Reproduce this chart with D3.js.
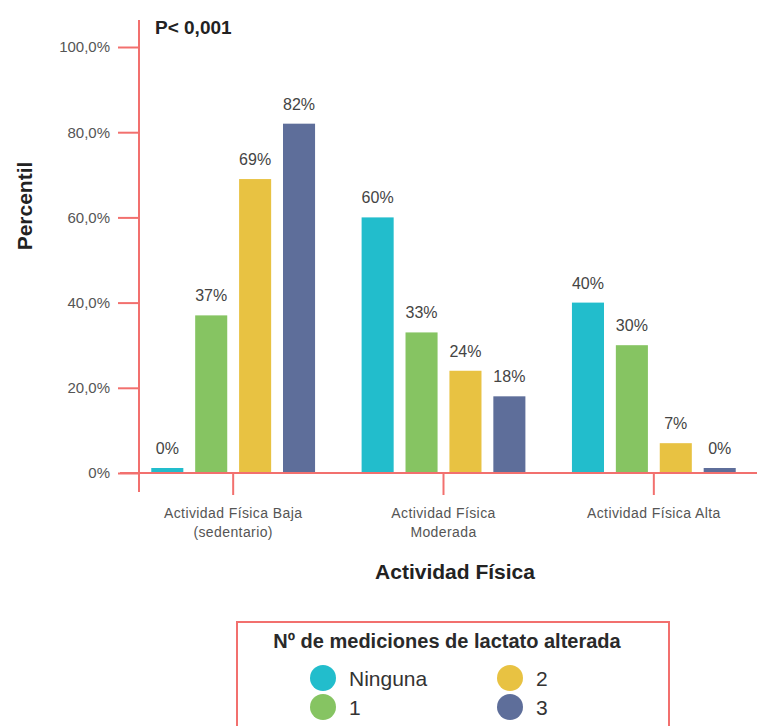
<!DOCTYPE html>
<html>
<head>
<meta charset="utf-8">
<script src="https://cdn.jsdelivr.net/npm/d3@7"></script>
<style>
  html, body { margin: 0; padding: 0; background: #fff; }
  svg { display: block; font-family: "Liberation Sans", Arial, sans-serif; }
</style>
</head>
<body>
<svg id="chart" width="757" height="726"></svg>
<script>
// Physical activity level (x categories) and lactate-measurement series
const categories = ["Actividad Física Baja\n(sedentario)", "Actividad Física\nModerada", "Actividad Física Alta"];
const series = ["Ninguna", "1", "2", "3"];
const seriesColors = ["#22BDCC", "#86C462", "#E8C242", "#5E6E9A"];

// Percent per category, one value per series (same order as `series`)
const valuesBaja = [0, 37, 69, 82];
const valuesModerada = [60, 33, 24, 18];
const valuesAlta = [40, 30, 7, 0];
const valuesByCategory = [valuesBaja, valuesModerada, valuesAlta];

const yTicks = [0, 20, 40, 60, 80, 100];

const axisColor = "#F2706E";
const svg = d3.select("#chart");

const y = d3.scaleLinear().domain([0, 100]).range([473, 47]);
const x0 = d3.scaleBand().domain(categories).range([128, 759]).paddingInner(0);
const x1 = d3.scaleBand().domain(series).range([0, x0.bandwidth()])
  .paddingInner(0.27).paddingOuter(0.53);
const color = d3.scaleOrdinal().domain(series).range(seriesColors);

const minBarPx = 5; // keeps zero-valued bars visible as a thin strip

// Bars
const groups = svg.append("g").selectAll("g")
  .data(categories.map((c, i) => ({ cat: c, vals: valuesByCategory[i] })))
  .join("g")
  .attr("transform", d => `translate(${x0(d.cat)},0)`);

const items = d => d.vals.map((v, j) => ({ key: series[j], v }));

groups.selectAll("rect")
  .data(items)
  .join("rect")
  .attr("x", d => x1(d.key))
  .attr("width", x1.bandwidth())
  .attr("y", d => Math.min(y(d.v), y(0) - minBarPx))
  .attr("height", d => Math.max(y(0) - y(d.v), minBarPx))
  .attr("fill", d => color(d.key));

groups.selectAll("text")
  .data(items)
  .join("text")
  .attr("x", d => x1(d.key) + x1.bandwidth() / 2)
  .attr("y", d => Math.min(y(d.v), y(0) - minBarPx) - 14)
  .attr("text-anchor", "middle")
  .attr("font-size", 16)
  .attr("fill", "#444")
  .text(d => d.v + "%");

// Y axis
const yAxis = d3.axisLeft(y)
  .tickValues(yTicks)
  .tickSize(21)
  .tickPadding(8)
  .tickFormat(d => d === 0 ? "0%" : d3.format(".1f")(d).replace(".", ",") + "%");

const gy = svg.append("g").attr("transform", "translate(139,0)").call(yAxis);
gy.select(".domain").remove();
gy.selectAll(".tick line").attr("stroke", axisColor).attr("stroke-width", 2);
gy.selectAll(".tick text").attr("font-size", 15).attr("fill", "#555")
  .attr("font-family", "Liberation Sans, Arial, sans-serif");

svg.append("line")
  .attr("x1", 139).attr("x2", 139).attr("y1", 20).attr("y2", 492)
  .attr("stroke", axisColor).attr("stroke-width", 2);

// X axis
const xAxis = d3.axisBottom(x0).tickSize(22).tickPadding(0).tickFormat("");
const gx = svg.append("g").attr("transform", `translate(0,${y(0)})`).call(xAxis);
gx.select(".domain").remove();
gx.selectAll(".tick line").attr("stroke", axisColor).attr("stroke-width", 2);

svg.append("line")
  .attr("x1", 120).attr("x2", 757).attr("y1", y(0)).attr("y2", y(0))
  .attr("stroke", axisColor).attr("stroke-width", 2);

const catLabels = svg.append("g").selectAll("text")
  .data(categories)
  .join("text")
  .attr("x", d => x0(d) + x0.bandwidth() / 2)
  .attr("y", 518)
  .attr("text-anchor", "middle")
  .attr("font-size", 14)
  .attr("letter-spacing", 0.4)
  .attr("fill", "#555");
catLabels.each(function (d) {
  const t = d3.select(this);
  d.split("\n").forEach((line, i) => {
    t.append("tspan")
      .attr("x", x0(d) + x0.bandwidth() / 2)
      .attr("dy", i === 0 ? 0 : 19)
      .text(line);
  });
});

// Titles
svg.append("text")
  .attr("x", 455).attr("y", 579)
  .attr("text-anchor", "middle")
  .attr("font-size", 21).attr("font-weight", "bold").attr("fill", "#222")
  .text("Actividad Física");

svg.append("text")
  .attr("transform", "translate(32,206) rotate(-90)")
  .attr("text-anchor", "middle")
  .attr("font-size", 21).attr("font-weight", "bold").attr("fill", "#222")
  .text("Percentil");

svg.append("text")
  .attr("x", 155).attr("y", 34)
  .attr("font-size", 19).attr("font-weight", "bold").attr("fill", "#222")
  .text("P< 0,001");

// Legend
const legend = svg.append("g");
legend.append("rect")
  .attr("x", 237).attr("y", 622).attr("width", 432).attr("height", 140)
  .attr("fill", "none").attr("stroke", axisColor).attr("stroke-width", 2);

legend.append("text")
  .attr("x", 447).attr("y", 648)
  .attr("text-anchor", "middle")
  .attr("font-size", 20).attr("font-weight", "bold").attr("fill", "#2a2a2a")
  .text("Nº de mediciones de lactato alterada");

const legendPos = [[323, 678], [323, 707], [510, 678], [510, 707]];
const li = legend.selectAll("g.item")
  .data(series)
  .join("g")
  .attr("class", "item")
  .attr("transform", (d, i) => `translate(${legendPos[i][0]},${legendPos[i][1]})`);
li.append("circle").attr("r", 13).attr("fill", d => color(d));
li.append("text")
  .attr("x", 26).attr("y", 7.5)
  .attr("font-size", 21).attr("fill", "#333")
  .text(d => d);
</script>
</body>
</html>
